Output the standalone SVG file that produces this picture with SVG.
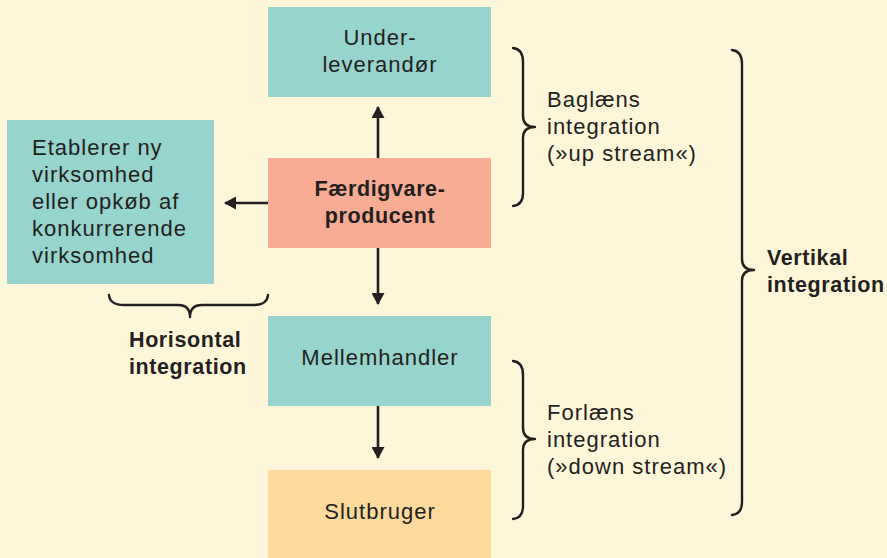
<svg xmlns="http://www.w3.org/2000/svg" width="887" height="558" viewBox="0 0 887 558">
<style>
.bg{fill:#FEF6D8}
.teal{fill:#96D4CD}
.salmon{fill:#F7AC93}
.sand{fill:#FEDB9C}
text{font-family:"Liberation Sans",Arial,sans-serif;font-size:22px;fill:#231F20;letter-spacing:1px}
.b{font-weight:bold;font-size:21.5px;letter-spacing:0.6px}
.c{text-anchor:middle}
.conn{stroke:#231F20;stroke-width:2.6;fill:none}
.brace{stroke:#231F20;stroke-width:2.4;fill:none;stroke-linecap:round;stroke-linejoin:round}
</style>
<defs>
<marker id="ah" viewBox="0 0 12 13" refX="11" refY="6.5" markerWidth="12" markerHeight="13" markerUnits="userSpaceOnUse" orient="auto">
<path d="M0 0 L12 6.5 L0 13 Z" fill="#231F20"/>
</marker>
</defs>
<rect class="bg" x="0" y="0" width="887" height="558"/>
<g id="underleverandor">
<rect class="teal" x="268" y="7" width="223" height="90"/>
<text class="c" x="380" y="45">Under-</text>
<text class="c" x="380" y="72">leverandør</text>
</g>
<g id="etablerer">
<rect class="teal" x="7" y="120" width="207" height="164"/>
<text x="32" y="155">Etablerer ny</text>
<text x="32" y="182">virksomhed</text>
<text x="32" y="209">eller opkøb af</text>
<text x="32" y="236">konkurrerende</text>
<text x="32" y="263">virksomhed</text>
</g>
<g id="faerdigvare">
<rect class="salmon" x="268" y="158" width="223" height="90"/>
<text class="c b" x="380" y="196">Færdigvare-</text>
<text class="c b" x="380" y="223">producent</text>
</g>
<g id="mellemhandler">
<rect class="teal" x="268" y="316" width="223" height="90"/>
<text class="c" x="380" y="365">Mellemhandler</text>
</g>
<g id="slutbruger">
<rect class="sand" x="268" y="470" width="223" height="90"/>
<text class="c" x="380" y="519">Slutbruger</text>
</g>
<g id="connectors">
<line class="conn" x1="378" y1="158" x2="378" y2="107" marker-end="url(#ah)"/>
<line class="conn" x1="268" y1="203" x2="225" y2="203" marker-end="url(#ah)"/>
<line class="conn" x1="378" y1="248" x2="378" y2="304" marker-end="url(#ah)"/>
<line class="conn" x1="378" y1="406" x2="378" y2="458" marker-end="url(#ah)"/>
</g>
<g id="horisontal">
<path class="brace" d="M109 295 Q110 305 124 305 L178 305 Q190 305 190 317 Q190 305 202 305 L254 305 Q267 305 268 295"/>
<text class="b" x="129" y="347">Horisontal</text>
<text class="b" x="129" y="374">integration</text>
</g>
<g id="baglaens">
<path class="brace" d="M513 48 Q523 49 523 62 L523 116 Q523 127 535 127 Q523 127 523 138 L523 193 Q523 205 513 206"/>
<text x="547" y="107">Baglæns</text>
<text x="547" y="134">integration</text>
<text x="547" y="161">(»up stream«)</text>
</g>
<g id="forlaens">
<path class="brace" d="M513 361 Q523 362 523 375 L523 428 Q523 439 535 439 Q523 439 523 450 L523 506 Q523 518 513 519"/>
<text x="547" y="420">Forlæns</text>
<text x="547" y="447">integration</text>
<text x="547" y="474">(»down stream«)</text>
</g>
<g id="vertikal">
<path class="brace" d="M732 50 Q742 51 742 64 L742 259 Q742 270 754 270 Q742 270 742 281 L742 502 Q742 514 732 515"/>
<text class="b" x="767" y="265">Vertikal</text>
<text class="b" x="767" y="292">integration</text>
</g>
</svg>
